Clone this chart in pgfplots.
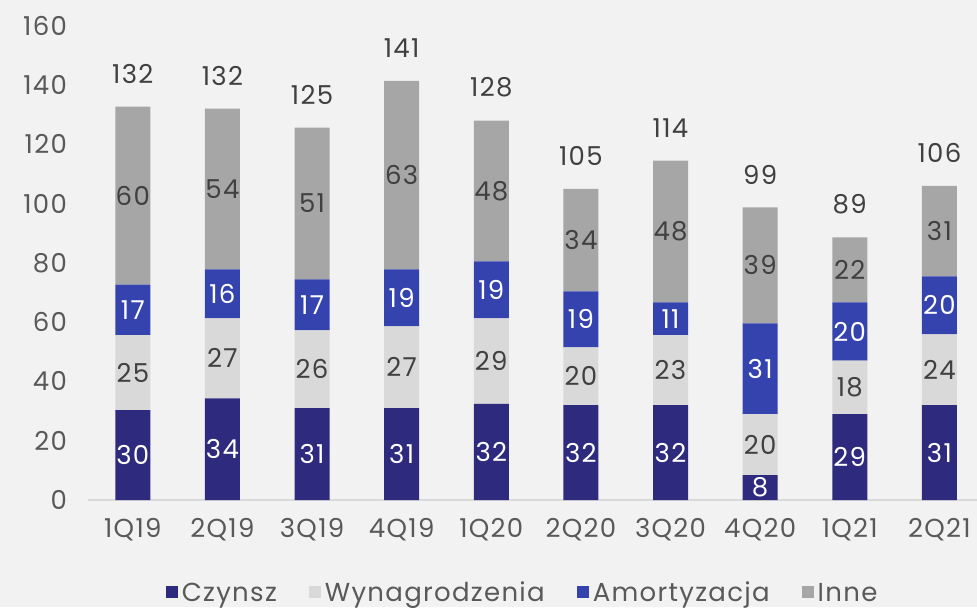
\documentclass[border=0pt]{standalone}
\usepackage{pgfplots}
\usepackage{pgfplotstable}
\pgfplotsset{compat=1.18}
\usepackage{fontspec}
\setmainfont{Poppins}[LetterSpace=5]
\definecolor{bg}{HTML}{F2F2F2}
\definecolor{czynsz}{HTML}{2E2A7D}
\definecolor{wyn}{HTML}{D9D9D9}
\definecolor{amort}{HTML}{3543AF}
\definecolor{inne}{HTML}{A6A6A6}
\definecolor{txt}{HTML}{404040}
\definecolor{ticktxt}{HTML}{595959}
% heights; labels as printed
\pgfplotstableread{
x c    w    a    i    lc lw la li z t
0 30.3 25.3 17.1 60.0 30 25 17 60 0 132
1 34.3 27.0 16.5 54.2 34 27 16 54 0 132
2 31.0 26.2 17.2 51.2 31 26 17 51 0 125
3 31.0 27.6 19.2 63.6 31 27 19 63 0 141
4 32.4 28.9 19.2 47.5 32 29 19 48 0 128
5 32.0 19.5 18.9 34.6 32 20 19 34 0 105
6 32.0 23.6 11.1 47.8 32 23 11 48 0 114
7 8.4  20.6 30.6 39.1 8  20 31 39 0 99
8 29.0 18.0 19.7 21.9 29 18 20 22 0 89
9 32.0 23.9 19.5 30.6 31 24 20 31 0 106
}\data
\newcommand\ff{\fontsize{13}{15}\selectfont}
\begin{document}
\ff
\begin{tikzpicture}
\fill[bg] (-44pt,-53.5pt) rectangle (444.5pt,250pt);
\begin{axis}[
  at={(0,0)}, anchor=south west,
  scale only axis, width=444.5pt, height=237.15pt,
  xmin=-0.5, xmax=9.42, ymin=0, ymax=160,
  ybar stacked, bar width=17.5pt,
  axis x line*=bottom, axis y line*=left,
  y axis line style={draw=none},
  x axis line style={draw=wyn, line width=1pt},
  major tick length=0pt,
  xtick=data,
  xticklabels={1Q19,2Q19,3Q19,4Q19,1Q20,2Q20,3Q20,4Q20,1Q21,2Q21},
  ytick={0,20,...,160},
  /pgf/number format/assume math mode=true,
  ticklabel style={text=ticktxt, font=\ff},
  yticklabel style={xshift=-6pt},
  xticklabel style={yshift=-4.5pt},
  legend style={at={(0.49,0)}, anchor=center, yshift=-47pt, draw=none, fill=none,
    legend columns=4, text=ticktxt, font=\ff,
    /tikz/every even column/.append style={column sep=14pt}},
  sq/.style={legend image code/.code={\fill[##1] (0pt,-2pt) rectangle (6pt,4pt);}},
  seg/.style={draw=none, nodes near coords, point meta=explicit,
    every node near coord/.append style={anchor=center, font=\ff, text=#1}},
]
\addplot[fill=czynsz, sq, seg=white] table[x=x,y=c,meta=lc]{\data};
\addplot[fill=wyn, sq, seg=txt] table[x=x,y=w,meta=lw]{\data};
\addplot[fill=amort, sq, seg=white] table[x=x,y=a,meta=la]{\data};
\addplot[fill=inne, sq, seg=txt] table[x=x,y=i,meta=li]{\data};
\addplot[draw=none, fill=none, stacked ignores zero=false, nodes near coords, point meta=explicit,
  every node near coord/.append style={anchor=south, yshift=7pt, text=txt, font=\ff}]
  table[x=x,y=z,meta=t]{\data};
\legend{Czynsz, Wynagrodzenia, Amortyzacja, Inne}
\end{axis}
\pgfresetboundingbox
\useasboundingbox (-44pt,-53.5pt) rectangle (444.5pt,250pt);
\end{tikzpicture}
\end{document}
